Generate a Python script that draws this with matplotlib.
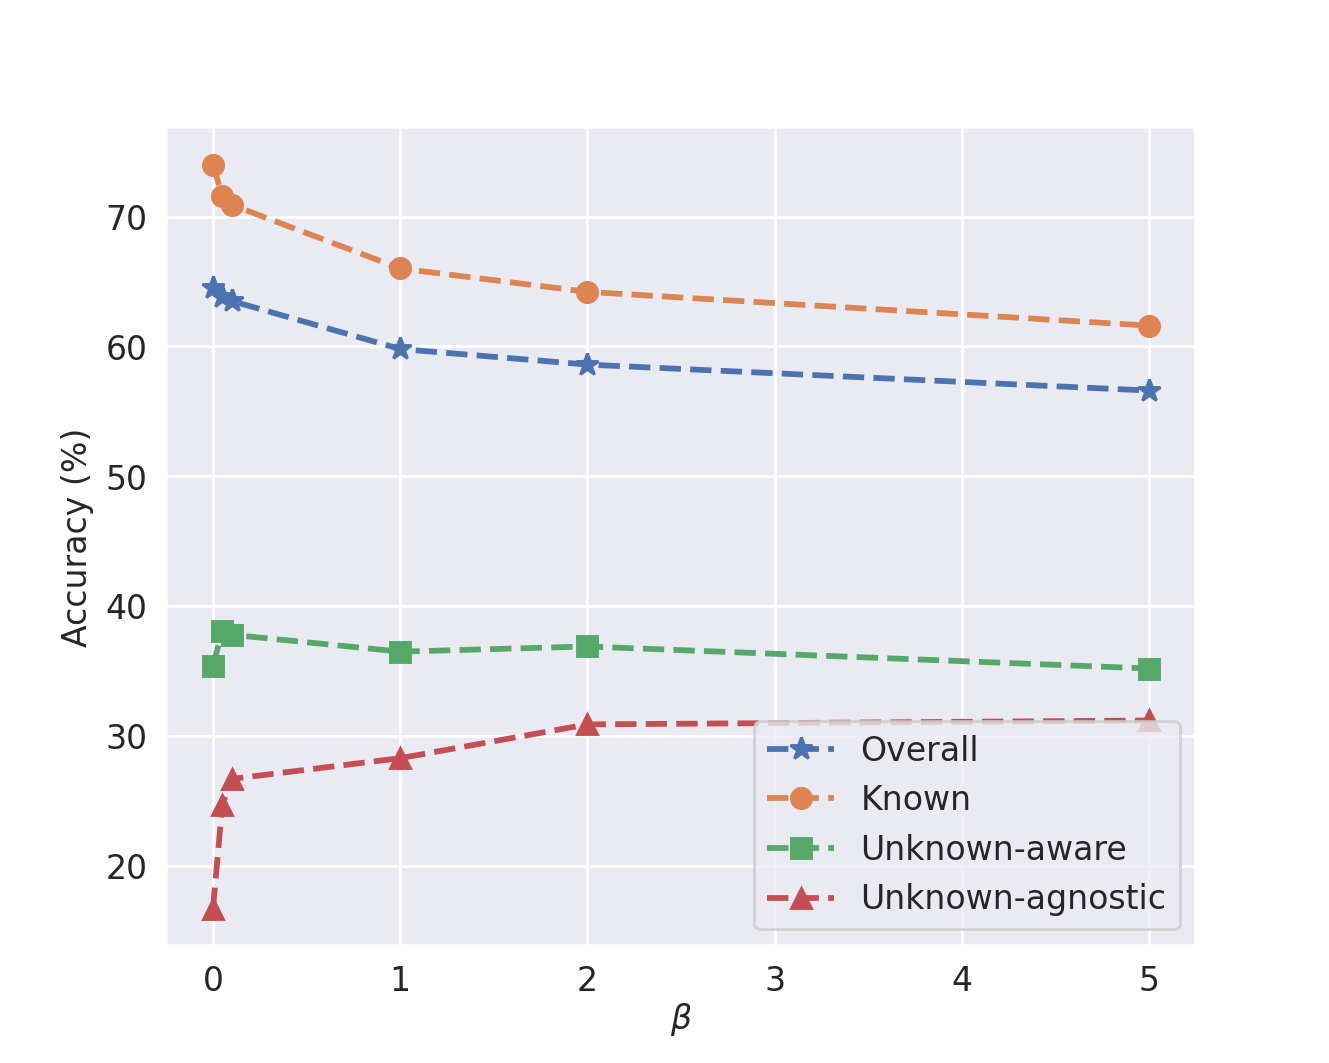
import numpy as np
import matplotlib
matplotlib.use('Agg')
import matplotlib.pyplot as plt
import seaborn as sns

sns.set_theme()
plt.rcParams['xtick.labelsize'] = 11.5
plt.rcParams['ytick.labelsize'] = 11.5
plt.rcParams['legend.fontsize'] = 11.5
plt.rcParams['axes.labelsize'] = 11.5
plt.rcParams['xtick.major.size'] = 0
plt.rcParams['ytick.major.size'] = 0
plt.rcParams['xtick.major.pad'] = 6.5
plt.rcParams['ytick.major.pad'] = 6.5

beta = [0, 0.05, 0.1, 1, 2, 5]
overall = [64.5, 63.8, 63.5, 59.8, 58.6, 56.6]
known = [74.0, 71.6, 70.9, 66.0, 64.2, 61.6]
unk_aware = [35.4, 38.1, 37.8, 36.5, 36.9, 35.2]
unk_agnostic = [16.7, 24.7, 26.7, 28.3, 30.9, 31.2]

fig, ax = plt.subplots(1, 1, figsize=(6.4, 5.12))
ax.plot(beta, overall, '*--', lw=2, ms=8, label='Overall')
ax.plot(beta, known, 'o--', lw=2, ms=7, label='Known')
ax.plot(beta, unk_aware, 's--', lw=2, ms=7, label='Unknown-aware')
ax.plot(beta, unk_agnostic, '^--', lw=2, ms=7, label='Unknown-agnostic')

ax.set_ylabel('Accuracy (%)')
ax.set_xlabel(r'$\beta$', labelpad=1)
ax.legend(loc='lower right')

plt.savefig('out.png', dpi=207.66)
